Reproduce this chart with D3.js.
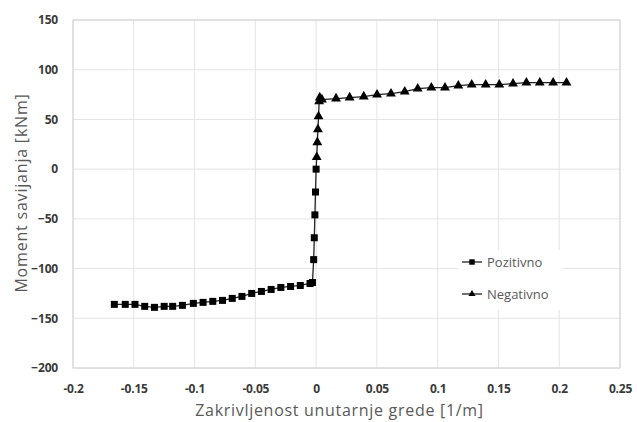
<!DOCTYPE html>
<html><head><meta charset="utf-8">
<script src="https://cdn.jsdelivr.net/npm/d3@7"></script>
<style>body{margin:0;background:#fff}svg{display:block}</style>
</head><body>
<svg id="c" width="637" height="422"></svg>
<script>
const xTicks = [-0.2,-0.15,-0.1,-0.05,0,0.05,0.1,0.15,0.2,0.25];
const xTickLabels = ["-0.2","-0.15","-0.1","-0.05","0","0.05","0.1","0.15","0.2","0.25"];
const yTicks = [-200,-150,-100,-50,0,50,100,150];
const xTitle = "Zakrivljenost unutarnje grede [1/m]";
const yTitle = "Moment savijanja [kNm]";
const seriesNames = ["Pozitivno","Negativno"];

const pozX = [0,-0.0005,-0.001,-0.0015,-0.002,-0.003,-0.005,-0.013,-0.021,-0.029,-0.037,-0.045,-0.053,-0.061,-0.069,-0.077,-0.085,-0.093,-0.101,-0.110,-0.118,-0.125,-0.133,-0.141,-0.149,-0.157,-0.166];
const pozY = [0,-23,-46,-69,-91,-114,-115,-117,-118,-119,-121,-123,-125,-128,-130,-132,-133,-134,-135,-137,-138,-138,-139,-138,-136,-136,-136];
const negX = [0,0.0005,0.001,0.0015,0.002,0.0025,0.003,0.0048,0.0164,0.0276,0.0392,0.0501,0.0616,0.0729,0.0836,0.0948,0.106,0.117,0.128,0.1395,0.1507,0.162,0.173,0.184,0.195,0.206];
const negY = [0,12,27,40,53,68,72,70,71,72,73,75,76,78,81,82,82,84,85,85,85,86,87,87,87,87];

const svg = d3.select("#c");
const L=73,R=620,T=20,B=368;
const x = d3.scaleLinear().domain([-0.2,0.25]).range([L,R]);
const y = d3.scaleLinear().domain([-200,150]).range([B,T]);
const font = "'Open Sans', 'Noto Sans', sans-serif";

// gridlines
svg.append("g").selectAll("line.v").data(xTicks).join("line")
  .attr("x1",d=>x(d)).attr("x2",d=>x(d)).attr("y1",T).attr("y2",B)
  .attr("stroke","#e4e4e4").attr("stroke-width",1);
svg.append("g").selectAll("line.h").data(yTicks).join("line")
  .attr("x1",L).attr("x2",R).attr("y1",d=>y(d)).attr("y2",d=>y(d))
  .attr("stroke","#e4e4e4").attr("stroke-width",1);
svg.append("rect").attr("x",L).attr("y",T).attr("width",R-L).attr("height",B-T)
  .attr("fill","none").attr("stroke","#d0d0d0");

// axes (labels only)
const xa = svg.append("g").attr("transform",`translate(0,${B})`)
  .call(d3.axisBottom(x).tickValues(xTicks).tickFormat((d,i)=>xTickLabels[i]).tickSize(0).tickPadding(16));
const ya = svg.append("g").attr("transform",`translate(${L},0)`)
  .call(d3.axisLeft(y).tickValues(yTicks).tickFormat(d3.format("d")).tickSize(0).tickPadding(15));
[xa,ya].forEach(a=>{a.select(".domain").remove();
  a.selectAll("text").attr("font-family",font).attr("font-size",12).attr("font-weight",700)
   .attr("letter-spacing","-0.2px").attr("fill","#3a3a3a");});

// titles
svg.append("text").attr("x",(L+R)/2-7).attr("y",416).attr("text-anchor","middle")
  .attr("font-family",font).attr("font-size",16).attr("letter-spacing","0.7px").attr("fill","#595959").text(xTitle);
svg.append("text").attr("transform",`translate(27,${193}) rotate(-90)`).attr("text-anchor","middle")
  .attr("font-family",font).attr("font-size",16).attr("letter-spacing","0.8px").attr("fill","#595959").text(yTitle);

// legend background
svg.append("rect").attr("x",458).attr("y",250).attr("width",105).attr("height",60).attr("fill","#fff");

const line = d3.line().x(d=>x(d[0])).y(d=>y(d[1]));
const poz = pozX.map((v,i)=>[v,pozY[i]]);
const neg = negX.map((v,i)=>[v,negY[i]]);
svg.append("path").attr("d",line(poz)).attr("fill","none").attr("stroke","#222").attr("stroke-width",1.3);
svg.append("path").attr("d",line(neg)).attr("fill","none").attr("stroke","#222").attr("stroke-width",1.3);

const sq = d3.symbol().type(d3.symbolSquare).size(49);
const tri = d3.symbol().type(d3.symbolTriangle).size(42);
svg.append("g").selectAll("path").data(poz).join("path")
  .attr("d",sq).attr("transform",d=>`translate(${x(d[0])},${y(d[1])})`).attr("fill","#000");
svg.append("g").selectAll("path").data(neg.slice(1)).join("path")
  .attr("d",tri).attr("transform",d=>`translate(${x(d[0])},${y(d[1])})`).attr("fill","#000");

// legend
const lsq = d3.symbol().type(d3.symbolSquare).size(30);
const ltri = d3.symbol().type(d3.symbolTriangle).size(22);
const lg = svg.append("g");
[[262,lsq],[294,ltri]].forEach(([ly,sym],i)=>{
  lg.append("line").attr("x1",462).attr("x2",482).attr("y1",ly).attr("y2",ly).attr("stroke","#222").attr("stroke-width",1.3);
  lg.append("path").attr("d",sym).attr("transform",`translate(472,${ly})`).attr("fill","#000");
  lg.append("text").attr("x",487).attr("y",ly+5).attr("font-family",font).attr("font-size",13).attr("fill","#595959").text(seriesNames[i]);
});
</script>
</body></html>
